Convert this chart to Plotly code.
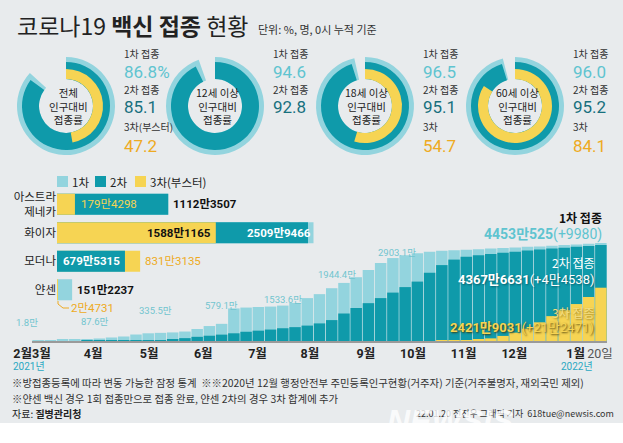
import plotly.graph_objects as go
import pandas as pd

W, H = 623, 443
def px(x): return x / W
def py(y): return 1 - y / H

C1 = '#93d4de'
C2 = '#0f9aaa'
C3 = '#f6d453'
BG = '#e8ebed'
T1 = '#5fc4d0'
T2 = '#17707e'
T3 = '#eeaa22'
FONT = 'Liberation Sans Narrow, Roboto, Noto Sans CJK KR, sans-serif'
KFONT = 'Noto Sans CJK KR, sans-serif'

# ---------------- donut data ----------------
donut_titles = ['전체<br>인구대비<br>접종률', '12세 이상<br>인구대비<br>접종률',
                '18세 이상<br>인구대비<br>접종률', '60세 이상<br>인구대비<br>접종률']
rate1 = [86.8, 94.6, 96.5, 96.0]
rate2 = [85.1, 92.8, 95.1, 95.2]
rate3 = [47.2, None, 54.7, 84.1]
rate_label1 = ['1차 접종'] * 4
rate_label2 = ['2차 접종'] * 4
rate_label3 = ['3차(부스터)', None, '3차', '3차']

# ---------------- vaccine data (만 명) ----------------
vaccines = ['아스트라<br>제네카', '화이자', '모더나', '얀센']
vac_d1 = [1112.3507, 2565.0, 679.5315, 151.2237]
vac_d2 = [1112.3507, 2509.9466, 679.5315, 0.0]
vac_d3 = [179.4298, 1588.1165, 831.3135, 2.4731]

# ---------------- cumulative (만 명), weekly from 2021-02-26 ----------------
cum_d1 = [10, 35, 55, 68, 85, 115, 160, 205, 295, 350, 370, 390, 430, 545, 680, 780,
          1480, 1520, 1545, 1565, 1610, 1730, 1950, 2130, 2400, 2640, 2900, 3230, 3540,
          3770, 3900, 3990, 4060, 4100, 4130, 4150, 4175, 4200, 4225, 4250, 4280, 4300,
          4330, 4360, 4390, 4420, 4453.0525]
cum_d2 = [0, 0, 0, 0, 2, 5, 8, 10, 12, 15, 40, 80, 130, 190, 240, 290, 350, 420, 470,
          520, 580, 630, 700, 800, 950, 1250, 1500, 1720, 1950, 2200, 2450, 2700, 3100,
          3450, 3700, 3830, 3900, 3960, 4010, 4060, 4110, 4160, 4200, 4240, 4280, 4320,
          4367.6631]
cum_d3 = [0] * 33 + [5, 15, 30, 60, 120, 230, 380, 560, 850, 1130, 1400, 1680, 2000,
                     2421.9031]
month_vals = [1.8, 87.6, 335.5, 579.1, 1533.6, 1944.4, 2903.1]
total_vals = [4453.0525, 4367.6631, 2421.9031]
daily_inc = [0.9980, 4.4538, 21.2471]
tick_dates = ['2021-02-26', '2021-04-02', '2021-05-04', '2021-06-04', '2021-07-05',
              '2021-08-04', '2021-09-05', '2021-10-02', '2021-10-31', '2021-11-29',
              '2022-01-03', '2022-01-17']
tick_texts = ['<b>2월3월</b>', '<b>4월</b>', '<b>5월</b>', '<b>6월</b>', '<b>7월</b>',
              '<b>8월</b>', '<b>9월</b>', '<b>10월</b>', '<b>11월</b>', '<b>12월</b>',
              '<b>1월</b>', '<span style="color:#555">20일</span>']
year_dates = ['2021-02-26', '2022-01-04']
year_texts = ['2021년', '2022년']
year_shift = [-3, 0]


def fmt(v):
    n = int(round(v * 10000))
    man, rest = divmod(n, 10000)
    if man == 0:
        return f"{rest}"
    return f"{man}만{rest}"


fig = go.Figure()

# ---------------- donuts ----------------
centers = [66, 215, 365, 515]
CY = 106
R_OUT, R_MID, R_IN, R_HOLE = 49, 44, 37, 27
for i, cx in enumerate(centers):
    rings = [(rate1[i], C1, R_OUT), (rate2[i], C2, R_MID)]
    if rate3[i] is not None:
        rings.append((rate3[i], C3, R_IN))
    for val, col, r in rings:
        fig.add_trace(go.Pie(
            values=[val, 100 - val], marker=dict(colors=[col, 'rgba(0,0,0,0)'], line=dict(width=0)),
            sort=False, direction='clockwise', rotation=0, hole=R_HOLE / r,
            textinfo='none', hoverinfo='skip', showlegend=False, automargin=False,
            domain=dict(x=[px(cx - r), px(cx + r)], y=[py(CY + r), py(CY - r)])))

# ---------------- vaccine bars (overlay, longest behind) ----------------
layers = [[None] * 4 for _ in range(3)]
lcols = [[None] * 4 for _ in range(3)]
for j in range(4):
    items = sorted([(vac_d1[j], C1), (vac_d2[j], C2), (vac_d3[j], C3)], key=lambda t: -t[0])
    for k, (v, c) in enumerate(items):
        layers[k][j] = v
        lcols[k][j] = c
for k in range(3):
    fig.add_trace(go.Bar(y=vaccines, x=layers[k], orientation='h', width=0.74,
                         marker=dict(color=lcols[k], line=dict(width=0)),
                         xaxis='x2', yaxis='y2', showlegend=False, hoverinfo='skip'))

# ---------------- cumulative bars ----------------
dates = pd.date_range('2021-02-26', periods=len(cum_d1), freq='7D') + pd.Timedelta(hours=84)
wk = 7 * 86400000 * 0.94
for ser, col in [(cum_d1, C1), (cum_d2, C2), (cum_d3, C3)]:
    fig.add_trace(go.Bar(x=dates, y=ser, width=wk, marker=dict(color=col, line=dict(width=0)),
                         xaxis='x', yaxis='y', showlegend=False, hoverinfo='skip'))

ann = []
def A(x, y, text, size=10, color='#222', xanchor='center', yanchor='middle', family=KFONT,
      shadow=None, **kw):
    f = dict(size=size, color=color, family=family)
    if shadow:
        f['shadow'] = shadow
    d = dict(x=x, y=y, text=text, showarrow=False, xanchor=xanchor, yanchor=yanchor, font=f)
    d.update(kw)
    if 'xref' not in kw:
        d['xref'] = 'paper'
        d['yref'] = 'paper'
    ann.append(d)

# title
A(px(15), py(25), '코로나19 <b>백신 접종</b> 현황', size=23, color='#222', xanchor='left')
A(px(256), py(29), '단위: %, 명, 0시 누적 기준', size=11, color='#333', xanchor='left')

# donut texts
for i, cx in enumerate(centers):
    A(px(cx + 2), py(CY), donut_titles[i], size=10.5, color='#222')
    lx = px(cx + 56)
    A(lx, py(53), rate_label1[i], size=10, color='#333', xanchor='left')
    A(lx, py(72), (f"{rate1[i]}%" if i == 0 else f"{rate1[i]:.1f}"), size=17,
      color=T1, xanchor='left', family=FONT)
    A(lx, py(89), rate_label2[i], size=10, color='#333', xanchor='left')
    A(lx, py(107), f"{rate2[i]:.1f}", size=17, color=T2, xanchor='left', family=FONT)
    if rate3[i] is not None:
        A(lx, py(127), rate_label3[i], size=10, color='#333', xanchor='left')
        A(lx, py(146), f"{rate3[i]:.1f}", size=17, color=T3, xanchor='left', family=FONT)

# legend of vaccine bars
shapes = [dict(type='rect', xref='paper', yref='paper', x0=0, x1=1, y0=py(423), y1=1,
               fillcolor=BG, line=dict(width=0), layer='below')]
for x0, col, lab in [(57, C1, '1차'), (95, C2, '2차'), (135, C3, '3차(부스터)')]:
    shapes.append(dict(type='rect', xref='paper', yref='paper', x0=px(x0), x1=px(x0 + 11),
                       y0=py(187), y1=py(176), fillcolor=col, line=dict(width=0)))
    A(px(x0 + 13), py(181.5), lab, size=11.5, color='#222', xanchor='left')

# vaccine bar labels
BS = 11.5
A(vac_d3[0], vaccines[0], fmt(vac_d3[0]), size=BS, color='#f6d453', xanchor='left',
  family=FONT, xref='x2', yref='y2', xshift=4)
A(vac_d2[0], vaccines[0], '<b>' + fmt(vac_d2[0]) + '</b>', size=BS, color='#111', xanchor='left',
  family=FONT, xref='x2', yref='y2', xshift=3)
A(vac_d3[1], vaccines[1], '<b>' + fmt(vac_d3[1]) + '</b>', size=BS, color='#111', xanchor='right',
  family=FONT, xref='x2', yref='y2', xshift=-3)
A(vac_d2[1], vaccines[1], '<b>' + fmt(vac_d2[1]) + '</b>', size=BS, color='white', xanchor='right',
  family=FONT, xref='x2', yref='y2', xshift=5)
A(vac_d2[2], vaccines[2], '<b>' + fmt(vac_d2[2]) + '</b>', size=BS, color='white', xanchor='right',
  family=FONT, xref='x2', yref='y2', xshift=-3)
A(vac_d3[2], vaccines[2], fmt(vac_d3[2]), size=BS, color=T3, xanchor='left',
  family=FONT, xref='x2', yref='y2', xshift=3)
A(vac_d1[3], vaccines[3], '<b>' + fmt(vac_d1[3]) + '</b>', size=BS, color='#111', xanchor='left',
  family=FONT, xref='x2', yref='y2', xshift=3)
A(vac_d3[3], vaccines[3], fmt(vac_d3[3]), size=BS, color=T3, xanchor='left',
  family=FONT, xref='x2', yref='y2', xshift=12, yshift=-18)
shapes.append(dict(type='path', xref='paper', yref='paper',
                   path=f"M {px(58)} {py(301)} L {px(58)} {py(304)} L {px(63)} {py(308)} L {px(69)} {py(308)}",
                   line=dict(color=T3, width=1)))

# cumulative month labels
label_pos = [(27, 322), (95, 321), (155, 310), (221, 305), (283, 299), (337, 274), (397, 252)]
for v, (lxp, lyp) in zip(month_vals, label_pos):
    A(px(lxp), py(lyp), f"{v}만", size=9.5, color='#72c5cf', family=FONT)

# year labels under the date axis
for d, t, s in zip(year_dates, year_texts, year_shift):
    A(d, py(366), t, size=10, color='#2aa8c2', family=FONT, xref='x', yref='paper', xshift=s)

# right totals
A(px(604), py(217), '<b>1차 접종</b>', size=12, color='#111', xanchor='right')
A(px(604), py(234), f"<b>{fmt(total_vals[0])}</b>(+{fmt(daily_inc[0])})", size=14, color=T1,
  xanchor='right', family=FONT)
A(px(596), py(262), '2차 접종', size=12, color='white', xanchor='right')
A(px(596), py(279), f"<b>{fmt(total_vals[1])}</b>(+{fmt(daily_inc[1])})", size=13, color='white',
  xanchor='right', family=FONT, shadow='1px 1px 2px rgba(0,60,70,0.6)')
A(px(596), py(312), '3차 접종', size=12, color='#f3dd80', xanchor='right',
  shadow='1px 1px 2px rgba(90,70,0,0.6)')
A(px(596), py(327), f"<b>{fmt(total_vals[2])}</b>(+{fmt(daily_inc[2])})", size=13, color='#f6d453',
  xanchor='right', family=FONT, shadow='1px 1px 2px rgba(60,50,0,0.9)')

# footnotes
A(px(10), py(382), '※방접종등록에 따라 변동 가능한 잠정 통계  ※※2020년 12월 행정안전부 주민등록인구현황(거주자) 기준(거주불명자, 재외국민 제외)',
  size=10.4, color='#333', xanchor='left')
A(px(10), py(398), '※얀센 백신 경우 1회 접종만으로 접종 완료, 얀센 2차의 경우 3차 합계에 추가',
  size=10.4, color='#333', xanchor='left')
A(px(10), py(413), '자료: <b>질병관리청</b>', size=10, color='#222', xanchor='left')
A(px(616), py(413), '22.01.20 전진우 그래픽 기자  618tue@newsis.com', size=9, color='#333',
  xanchor='right')
A(px(450), py(421), '<b><i>NEWSIS</i></b>', size=32, color='rgba(255,255,255,0.8)',
  family='Liberation Sans, sans-serif')

fig.update_layout(
    width=W, height=H, margin=dict(l=0, r=0, t=0, b=0, autoexpand=False), autosize=False,
    paper_bgcolor='white', plot_bgcolor='rgba(0,0,0,0)', barmode='overlay',
    showlegend=False, annotations=ann, shapes=shapes,
    font=dict(family=KFONT, color='#222'),
    xaxis=dict(domain=[px(32), px(607)], range=['2021-02-26', '2022-01-21'], type='date',
               anchor='y', showgrid=False, zeroline=False, showline=True, linecolor='#9a9a9a',
               linewidth=1.5, ticks='', tickvals=tick_dates, ticktext=tick_texts, tickangle=0,
               automargin=False, tickfont=dict(size=12.5, color='#222', family=FONT)),
    yaxis=dict(domain=[py(341), py(242)], range=[0, 4500], visible=False, anchor='x',
               automargin=False),
    xaxis2=dict(domain=[px(57), 1], range=[0, 5660], visible=False, anchor='y2',
                automargin=False),
    yaxis2=dict(domain=[py(304), py(190)], type='category', autorange='reversed', anchor='x2',
                showgrid=False, zeroline=False, showline=False, ticks='', automargin=False,
                tickfont=dict(size=11.5, color='#222', family=KFONT)),
)

fig.write_html('out.html')
